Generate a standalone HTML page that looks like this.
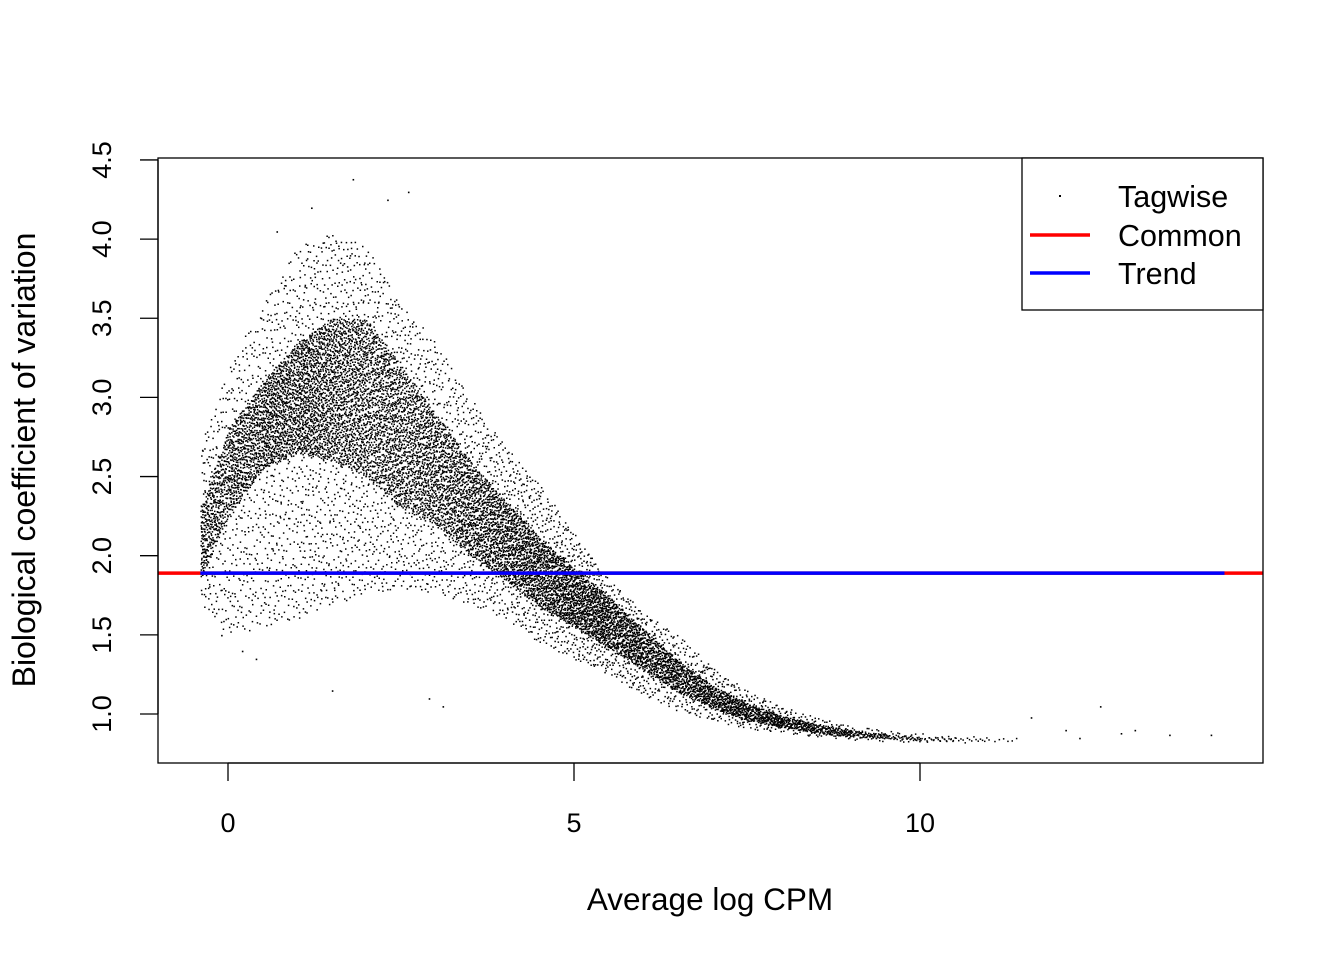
<!DOCTYPE html>
<html><head><meta charset="utf-8"><style>
body{margin:0;background:#fff}
text{font-family:"Liberation Sans",sans-serif;fill:#000}
</style></head><body>
<svg id="chart" width="1344" height="960" xmlns="http://www.w3.org/2000/svg">
<g id="pts"></g>
<g id="lines"></g>
<rect x="158" y="158" width="1105" height="605" fill="none" stroke="#000" stroke-width="1.3"/>
<g id="axes"></g>
<text x="710" y="910" font-size="31.5" text-anchor="middle">Average log CPM</text>
<text transform="translate(35,460) rotate(-90)" font-size="32" text-anchor="middle">Biological coefficient of variation</text>
<g>
<rect x="1022" y="158" width="241" height="152" fill="#fff" stroke="#000" stroke-width="1.3"/>
<rect x="1059" y="195" width="2" height="2" fill="#000"/>
<line x1="1030" y1="235" x2="1090" y2="235" stroke="#f00" stroke-width="3.5"/>
<line x1="1030" y1="273" x2="1090" y2="273" stroke="#00f" stroke-width="3.5"/>
<text x="1118" y="207" font-size="30.5">Tagwise</text>
<text x="1118" y="246" font-size="30.5">Common</text>
<text x="1118" y="284" font-size="30.5">Trend</text>
</g>
</svg>
<script>
// Envelope of the tagwise cloud (x = avg logCPM)
const sliceX  = [-0.4,0,0.5,1,1.5,2,2.5,3,3.5,4,4.5,5,5.5,6,6.5,7,7.5,8,8.5,9,9.5,10,10.5,11];
const denseLo = [1.85,2.25,2.55,2.65,2.6,2.5,2.3,2.2,2.0,1.85,1.68,1.55,1.42,1.28,1.14,1.04,0.96,0.92,0.88,0.86,0.845,0.835,0.83,0.83];
const denseHi = [2.30,2.8,3.1,3.35,3.5,3.5,3.2,2.9,2.6,2.35,2.12,1.92,1.74,1.54,1.34,1.18,1.07,0.99,0.94,0.9,0.875,0.86,0.855,0.85];
const wideLo  = [1.70,1.5,1.55,1.6,1.7,1.75,1.8,1.75,1.7,1.6,1.45,1.35,1.25,1.12,1.02,0.96,0.91,0.88,0.86,0.84,0.83,0.82,0.82,0.82];
const wideHi  = [2.70,3.2,3.6,3.95,4.05,3.95,3.6,3.35,3.0,2.7,2.45,2.15,1.85,1.65,1.5,1.3,1.15,1.05,0.98,0.93,0.9,0.88,0.87,0.86];
const sliceN  = [600,900,1100,1300,1300,1200,1050,950,950,950,900,850,700,560,460,380,300,210,150,95,55,32,16,6];
const outX = [1.8,2.6,2.3,1.2,0.7,12.6,13.1,12.9,13.6,14.2,11.6,12.1,12.3,1.5,2.9,3.1,0.4,-0.1,0.2];
const outY = [4.38,4.3,4.25,4.2,4.05,1.05,0.9,0.88,0.87,0.87,0.98,0.9,0.85,1.15,1.1,1.05,1.35,1.5,1.4];
const xTicks=[0,5,10], yTicks=[1.0,1.5,2.0,2.5,3.0,3.5,4.0,4.5];
const commonBCV=1.89, trendX=[-0.4,14.4], trendY=[1.89,1.89];
const X=v=>228+(v)*69.2, Y=v=>714-(v-1)*158.3;
const NS="http://www.w3.org/2000/svg";
function mk(t,a,p){const e=document.createElementNS(NS,t);for(const k in a)e.setAttribute(k,a[k]);p.appendChild(e);return e;}
function hal(i,b){let f=1,r=0;while(i>0){f/=b;r+=f*(i%b);i=Math.floor(i/b);}return r;}
const g=document.getElementById('pts');let idx=1;
for(let s=0;s<sliceX.length;s++){
  const x0=sliceX[s], x1=s+1<sliceX.length?sliceX[s+1]:x0+0.5;
  for(let k=0;k<sliceN[s];k++,idx++){
    const u=hal(idx,2), v=hal(idx,3), w=hal(idx,5);
    const x=x0+u*(x1-x0);
    const d=w<0.68;
    const lo=d?denseLo[s]:wideLo[s], hi=d?denseHi[s]:wideHi[s];
    const lo2=s+1<sliceX.length?(d?denseLo[s+1]:wideLo[s+1]):lo;
    const hi2=s+1<sliceX.length?(d?denseHi[s+1]:wideHi[s+1]):hi;
    const l=lo+(lo2-lo)*u, h=hi+(hi2-hi)*u;
    const y=l+v*(h-l);
    const r=mk('rect',{x:X(x).toFixed(1),y:Y(y).toFixed(1),width:1.5,height:1.5},g);
    
    
  }
}
for(let i=0;i<outX.length;i++){
  const r=mk('rect',{x:X(outX[i]),y:Y(outY[i]),width:1.6,height:1.6},g);
  
  
}
const L=document.getElementById('lines');
const c=mk('line',{x1:158,x2:1263,y1:Y(commonBCV),y2:Y(commonBCV),stroke:'#f00','stroke-width':3.5},L);


const tr=mk('line',{x1:X(trendX[0]),x2:X(trendX[1]),y1:Y(trendY[0]),y2:Y(trendY[1]),stroke:'#00f','stroke-width':3.5},L);


const A=document.getElementById('axes');
mk('line',{x1:X(xTicks[0]),x2:X(xTicks[xTicks.length-1]),y1:763,y2:763,stroke:'#000','stroke-width':1.3},A);
xTicks.forEach(t=>{mk('line',{x1:X(t),x2:X(t),y1:763,y2:781,stroke:'#000','stroke-width':1.3},A);
  const e=mk('text',{x:X(t),y:832,'font-size':27,'text-anchor':'middle'},A);e.textContent=t;
  
  });
mk('line',{x1:158,x2:158,y1:Y(yTicks[0]),y2:Y(yTicks[yTicks.length-1]),stroke:'#000','stroke-width':1.3},A);
yTicks.forEach(t=>{mk('line',{x1:140,x2:158,y1:Y(t),y2:Y(t),stroke:'#000','stroke-width':1.3},A);
  const e=mk('text',{transform:`translate(111,${Y(t)}) rotate(-90)`,'font-size':27,'text-anchor':'middle'},A);e.textContent=t.toFixed(1);
  
  });
</script>
</body></html>
